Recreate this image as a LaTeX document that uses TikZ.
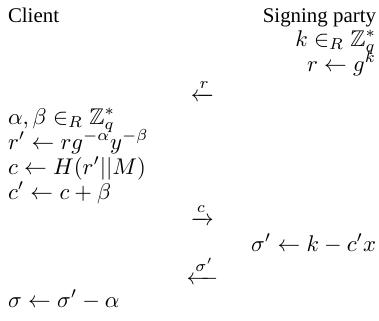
\documentclass[tikz,border=0pt]{standalone}
\usepackage{amsmath,amssymb}
\usepackage[no-math]{fontspec}
\setmainfont{Liberation Serif}
\begin{document}
\begin{tikzpicture}[x=0.4405pt,y=-0.4405pt,
  every node/.style={inner sep=0pt,outer sep=0pt},
  txt/.style={font=\fontsize{9.2}{11}\selectfont},
  lcol/.style={anchor=base west},
  rcol/.style={anchor=base east},
  mcol/.style={anchor=base}]
\useasboundingbox (0,0) rectangle (379,320);
\node[txt,lcol] (client) at (8,22) {Client};
\node[txt,rcol] (signer) at (376,22) {Signing party};
\node[rcol] (k) at (376,46) {$k \in_R \mathbb{Z}_q^*$};
\node[rcol] (r) at (376,71) {$r \leftarrow g^k$};
\node[mcol] (m1) at (202.5,101) {$\xleftarrow{r}$};
\node[lcol] (ab) at (8,124) {$\alpha, \beta \in_R \mathbb{Z}_q^*$};
\node[lcol] (rp) at (8,149) {$r' \leftarrow r g^{-\alpha} y^{-\beta}$};
\node[lcol] (c) at (8,174) {$c \leftarrow H(r' || M)$};
\node[lcol] (cp) at (8,199) {$c' \leftarrow c + \beta$};
\node[mcol] (m2) at (202.5,225) {$\xrightarrow{c}$};
\node[rcol] (sp) at (376,251) {$\sigma' \leftarrow k - c' x$};
\node[mcol] (m3) at (202.5,284) {$\xleftarrow{\sigma'}$};
\node[lcol] (s) at (8,307) {$\sigma \leftarrow \sigma' - \alpha$};
\end{tikzpicture}
\end{document}
